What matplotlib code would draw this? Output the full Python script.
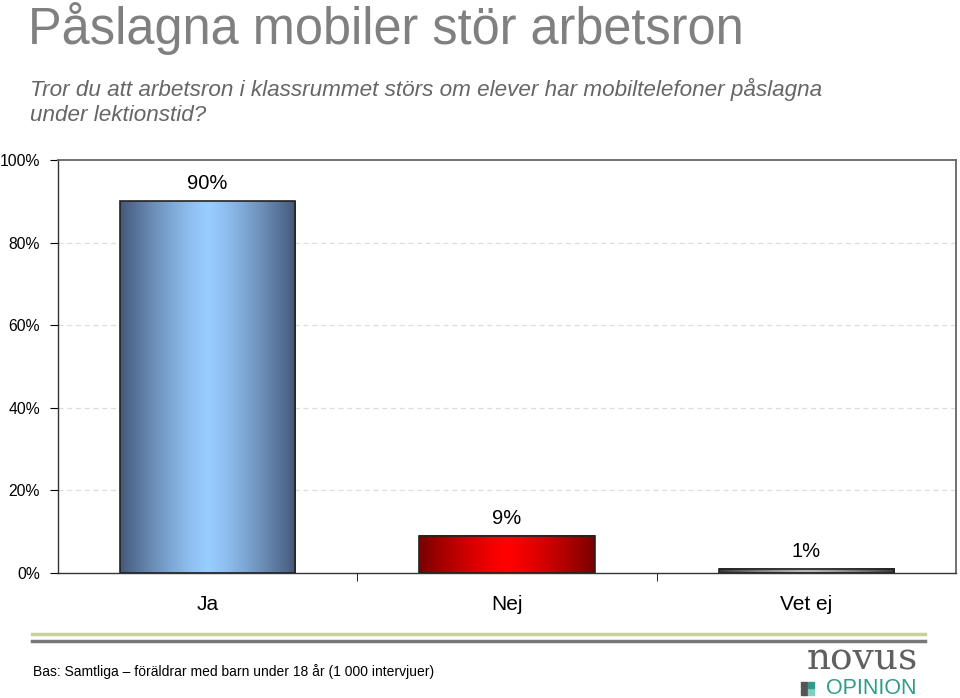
import numpy as np
import matplotlib
matplotlib.use("Agg")
import matplotlib.pyplot as plt
from matplotlib.colors import LinearSegmentedColormap

plt.rcParams["font.family"] = ["Liberation Sans", "DejaVu Sans"]

categories = ["Ja", "Nej", "Vet ej"]
values = [90, 9, 1]
value_labels = ["90%", "9%", "1%"]
yticks = [0, 20, 40, 60, 80, 100]
ytick_labels = ["0%", "20%", "40%", "60%", "80%", "100%"]
# bar gradients: edge colour, centre colour
bar_colors = [("#44597a", "#99ccff"), ("#7a0000", "#ff0000"), ("#3a3a3a", "#b8b8b8")]

title = "Påslagna mobiler stör arbetsron"
subtitle = "Tror du att arbetsron i klassrummet störs om elever har mobiltelefoner påslagna\nunder lektionstid?"
footer = "Bas: Samtliga – föräldrar med barn under 18 år (1 000 intervjuer)"

fig = plt.figure(figsize=(9.6, 6.98), dpi=100)
ax = fig.add_axes([0.0604, 0.179, 0.9354, 0.5917])

x = np.arange(len(categories))
width = 0.585
grad = np.abs(np.linspace(-1, 1, 256))[None, :] ** 1.3
for xi, v, (edge, centre) in zip(x, values, bar_colors):
    cmap = LinearSegmentedColormap.from_list("g", [centre, edge])
    ax.imshow(grad, cmap=cmap, aspect="auto", vmin=0, vmax=1,
              extent=(xi - width / 2, xi + width / 2, 0, v), zorder=2)
    ax.add_patch(plt.Rectangle((xi - width / 2, 0), width, v, fill=False,
                               edgecolor="#222222", linewidth=1.2, zorder=3))
for xi, v, lab in zip(x, values, value_labels):
    ax.text(xi, v + 4.3, lab, ha="center", va="center", fontsize=14.5, color="black")

ax.set_xlim(-0.5, len(categories) - 0.5)
ax.set_ylim(0, 100)
ax.set_yticks(yticks)
ax.set_yticklabels(ytick_labels, fontsize=11.3)
ax.set_xticks(x)
ax.set_xticklabels(categories, fontsize=15)
ax.tick_params(axis="x", length=0, pad=16)
ax.set_xticks([0.5, 1.5], minor=True)
ax.tick_params(axis="x", which="minor", length=6, direction="out")
ax.tick_params(axis="y", length=6, direction="out", pad=7)
for yv in yticks[1:-1]:
    ax.axhline(yv, color="#dddddd", linestyle=(0, (4, 3)), linewidth=0.9, zorder=1)
for s in ["left", "bottom"]:
    ax.spines[s].set_color("#333333")
    ax.spines[s].set_linewidth(1.0)
for s in ["top", "right"]:
    ax.spines[s].set_color("#666666")
    ax.spines[s].set_linewidth(1.3)

fig.text(0.029, 0.937, title, fontsize=36.4, color="#808080", va="baseline")
fig.text(0.031, 0.854, subtitle, fontsize=16.2, color="#666666", style="italic",
         va="center", linespacing=1.3)

fig.add_artist(plt.Line2D([0.033, 0.964], [0.092, 0.092], color="#c5d199", linewidth=2.5))
fig.add_artist(plt.Line2D([0.033, 0.964], [0.081, 0.081], color="#777777", linewidth=2.5))
fig.text(0.034, 0.038, footer, fontsize=10, color="black", va="center")

fig.text(0.898, 0.055, "novus", fontsize=27, color="#606060", family="DejaVu Serif",
         ha="center", va="center")
fig.text(0.908, 0.013, "OPINION", fontsize=15.5, color="#2f9c8a", ha="center", va="center")
for dx, dy, c in [(0, 0, "#555555"), (0.0075, 0, "#7fd0c0"), (0, 0.011, "#555555"), (0.0075, 0.011, "#2f9c8a")]:
    fig.add_artist(plt.Rectangle((0.834 + dx, 0.004 + dy), 0.0062, 0.0085, color=c,
                                 transform=fig.transFigure))

fig.savefig("out.png", dpi=100)
